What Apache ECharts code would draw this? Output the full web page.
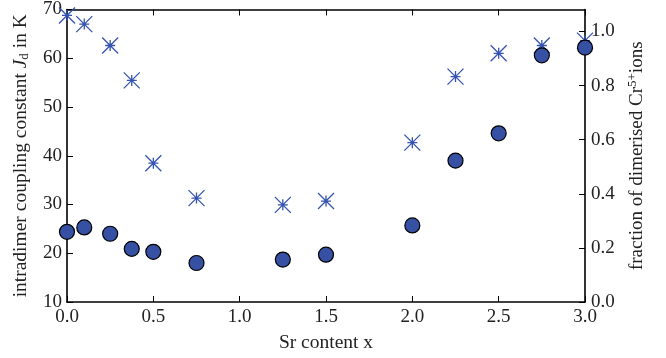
<!DOCTYPE html>
<html><head><meta charset="utf-8">
<script src="https://cdn.jsdelivr.net/npm/echarts@6/dist/echarts.min.js"></script>
<style>html,body{margin:0;padding:0;background:#fff}#c{width:666px;height:358px}</style>
</head><body><div id="c"></div>
<script>
const srContent = [0.0, 0.1, 0.25, 0.375, 0.5, 0.75, 1.25, 1.5, 2.0, 2.25, 2.5, 2.75, 3.0];
const couplingJd = [24.4, 25.3, 24.0, 20.9, 20.3, 18.0, 18.7, 19.7, 25.7, 39.0, 44.6, 60.6, 62.2];
const dimerFraction = [1.059, 1.027, 0.948, 0.819, 0.513, 0.384, 0.359, 0.373, 0.589, 0.833, 0.919, 0.948, 0.966];
const xTicks = [0, 3, 0.5];
const leftTicks = [10, 70, 10];
const rightTicks = [0, 1.081, 0.2];

const FONT = 'Liberation Serif';
const chart = echarts.init(document.getElementById('c'), null, {renderer: 'canvas'});
const axisLine = {show: true, onZero: false, lineStyle: {color: '#000', width: 1.6}};
const tickIn = {show: true, inside: true, length: 6, lineStyle: {color: '#000', width: 1}};
const lbl = {fontFamily: FONT, fontSize: 19, color: '#222'};

chart.setOption({
  animation: false,
  grid: {left: 67, right: 81, top: 5, bottom: 52},
  xAxis: [{
    type: 'value', min: xTicks[0], max: xTicks[1], interval: xTicks[2], position: 'bottom',
    axisLine, axisTick: tickIn, splitLine: {show: false},
    axisLabel: Object.assign({margin: 6, formatter: v => v.toFixed(1)}, lbl),
    name: 'Sr content x', nameLocation: 'middle', nameGap: 31,
    nameTextStyle: {fontFamily: FONT, fontSize: 19.5, color: '#222'}
  }, {
    type: 'value', min: xTicks[0], max: xTicks[1], interval: xTicks[2], position: 'top',
    axisLine, axisTick: tickIn, splitLine: {show: false}, axisLabel: {show: false}
  }],
  yAxis: [{
    type: 'value', min: leftTicks[0], max: leftTicks[1], interval: leftTicks[2], position: 'left',
    axisLine, axisTick: tickIn, splitLine: {show: false},
    axisLabel: Object.assign({margin: 5}, lbl),
    name: '{a|intradimer coupling constant }{i|J}{s|d}{a| in K}',
    nameLocation: 'middle', nameGap: 36, nameRotate: 90,
    nameTextStyle: {
      fontFamily: FONT, fontSize: 19.5, color: '#222',
      rich: {
        a: {fontFamily: FONT, fontSize: 19.5, color: '#222'},
        i: {fontFamily: FONT, fontSize: 19.5, fontStyle: 'italic', color: '#222'},
        s: {fontFamily: FONT, fontSize: 13, color: '#222', padding: [8, 0, 0, 0]}
      }
    }
  }, {
    type: 'value', min: rightTicks[0], max: rightTicks[1], interval: rightTicks[2], position: 'right',
    axisLine, axisTick: tickIn, splitLine: {show: false},
    axisLabel: Object.assign({margin: 6, showMaxLabel: false, formatter: v => v.toFixed(1)}, lbl),
    name: '{a|fraction of dimerised Cr}{p|5+}{a|ions}',
    nameLocation: 'middle', nameGap: 40, nameRotate: 90,
    nameTextStyle: {
      fontFamily: FONT, fontSize: 19, color: '#222',
      rich: {
        a: {fontFamily: FONT, fontSize: 19, color: '#222'},
        p: {fontFamily: FONT, fontSize: 13, color: '#222', padding: [0, 0, 9, 0]}
      }
    }
  }],
  series: [{
    type: 'scatter', xAxisIndex: 0, yAxisIndex: 1, z: 2,
    data: srContent.map((x, i) => [x, dimerFraction[i]]),
    symbol: 'path://M0,0L16,16M16,0L0,16M8,2.5L8,13.5M3,8L13,8',
    symbolSize: 16,
    itemStyle: {color: 'none', borderColor: '#3553b0', borderWidth: 1.3, opacity: 1}
  }, {
    type: 'scatter', xAxisIndex: 0, yAxisIndex: 0, z: 3,
    data: srContent.map((x, i) => [x, couplingJd[i]]),
    symbol: 'circle', symbolSize: 15,
    itemStyle: {color: '#3651a3', borderColor: '#000', borderWidth: 1.2, opacity: 1}
  }]
});
</script></body></html>
